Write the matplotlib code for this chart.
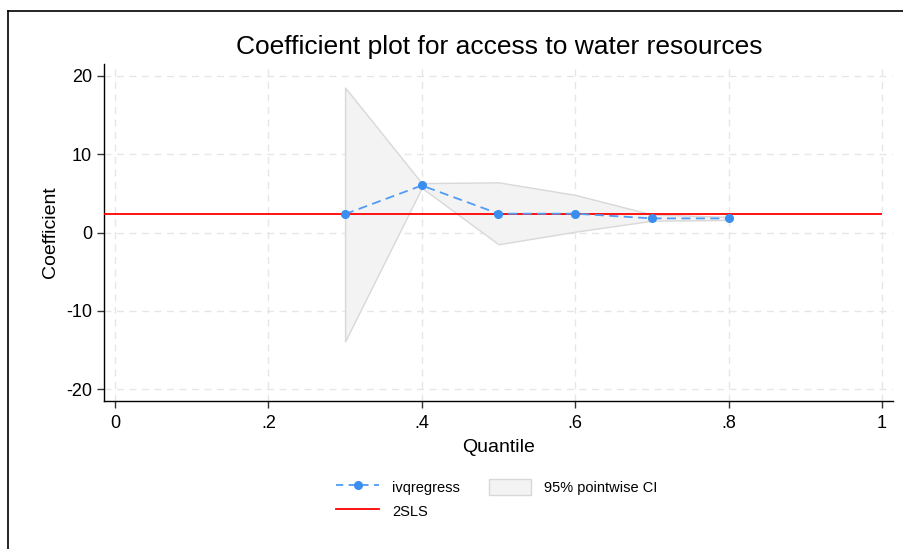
import numpy as np
import matplotlib
matplotlib.use("Agg")
import matplotlib.pyplot as plt
from matplotlib.lines import Line2D
from matplotlib.patches import Patch

plt.rcParams['font.family'] = ['Liberation Sans', 'DejaVu Sans']
plt.rcParams['axes.unicode_minus'] = False

# quantile regression estimates
quantiles = [0.3, 0.4, 0.5, 0.6, 0.7, 0.8]
coef = [2.35, 6.0, 2.4, 2.4, 1.8, 1.8]
ci_low = [-13.9, 5.7, -1.5, 0.1, 1.5, 1.6]
ci_high = [18.5, 6.3, 6.4, 4.8, 2.3, 2.0]
tsls = 2.3

xticks = [0, 0.2, 0.4, 0.6, 0.8, 1]
xticklabels = ['0', '.2', '.4', '.6', '.8', '1']
yticks = [-20, -10, 0, 10, 20]

fig = plt.figure(figsize=(9.04, 5.49), dpi=100)
ax = fig.add_axes([104 / 904, 1 - 401 / 549, (893 - 104) / 904, (401 - 64) / 549])
x0, x1 = -0.0143, 1.0143

ax.fill_between(quantiles, ci_low, ci_high, facecolor='#f3f3f3',
                edgecolor='#d8d8d8', lw=1, zorder=1)
ax.hlines(tsls, x0, 1, color='#ff0000', lw=1.3, zorder=3)
ax.plot(quantiles, coef, color='#4f9bf5', ls=(0, (5, 3)), lw=1.3,
        marker='o', ms=5.5, mfc='#3a8ef0', mec='#3a8ef0', zorder=4)

ax.set_xlim(x0, x1)
ax.set_ylim(-21.5, 21.5)
ax.set_xticks(xticks)
ax.set_xticklabels(xticklabels)
ax.set_yticks(yticks)
ax.grid(True, ls=(0, (5, 4)), color='#e6e6e6', lw=1)
ax.set_axisbelow(True)
for s in ['top', 'right']:
    ax.spines[s].set_visible(False)
for s in ['left', 'bottom']:
    ax.spines[s].set_linewidth(1)
ax.tick_params(direction='out', length=5, width=1, labelsize=13, color='#333333')
ax.tick_params(axis='x', pad=5)
ax.set_xlabel('Quantile', fontsize=14, labelpad=5)
ax.set_ylabel('Coefficient', fontsize=14, labelpad=5)

fig.text(499 / 904, 1 - 47 / 549, 'Coefficient plot for access to water resources',
         ha='center', va='center', fontsize=19)

handles = [
    Line2D([], [], color='#4f9bf5', ls=(0, (4, 3)), lw=1.3, marker='o', ms=5.5,
           mfc='#3a8ef0', mec='#3a8ef0'),
    Line2D([], [], color='#ff0000', lw=1.3),
    Patch(facecolor='#f3f3f3', edgecolor='#d8d8d8'),
]
labels = ['ivqregress', '2SLS', '95% pointwise CI']
fig.legend(handles, labels, ncol=2, frameon=False, fontsize=10.5,
           loc='center', bbox_to_anchor=(497 / 904, 1 - 499 / 549),
           handlelength=2.9, handleheight=1.4, handletextpad=0.9,
           columnspacing=2.0, labelspacing=0.5)

# outer border
fig.add_artist(Line2D([8 / 904, 8 / 904], [0, 1 - 11 / 549], color='black', lw=1.2,
                      transform=fig.transFigure))
fig.add_artist(Line2D([8 / 904, 1], [1 - 11 / 549, 1 - 11 / 549], color='black', lw=1.2,
                      transform=fig.transFigure))

fig.savefig('out.png', dpi=100)
